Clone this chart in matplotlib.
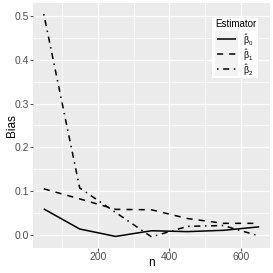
import matplotlib
matplotlib.use('Agg')
import matplotlib.pyplot as plt
from matplotlib.patches import Rectangle
from matplotlib.ticker import MultipleLocator

plt.rcParams['font.family'] = ['Liberation Sans', 'DejaVu Sans']
plt.rcParams['mathtext.fontset'] = 'custom'
plt.rcParams['mathtext.rm'] = 'Liberation Sans'
plt.rcParams['mathtext.it'] = 'Liberation Sans'

# data
n = [50, 150, 250, 350, 450, 550, 650]
bias_b0 = [0.059, 0.013, -0.004, 0.009, 0.007, 0.010, 0.018]
bias_b1 = [0.105, 0.082, 0.058, 0.057, 0.037, 0.026, 0.026]
bias_b2 = [0.505, 0.107, 0.051, -0.005, 0.019, 0.021, -0.003]
labels = [r'$\hat{\beta}_0$', r'$\hat{\beta}_1$', r'$\hat{\beta}_2$']
styles = [(0, ()), (0, (4, 4)), (0, (1, 3, 4, 3))]

W = 273
fig = plt.figure(figsize=(2.73, 2.73), dpi=100)
ax = fig.add_axes([33 / W, 1 - 248 / W, 237 / W, 245 / W])
ax.set_facecolor('#EBEBEB')
for s in ax.spines.values():
    s.set_visible(False)

for y, ls in zip([bias_b0, bias_b1, bias_b2], styles):
    ax.plot(n, y, color='black', linewidth=1.1, linestyle=ls, solid_capstyle='butt')

ax.set_xlim(20, 680)
ax.set_ylim(-0.0305, 0.5305)
ax.xaxis.set_minor_locator(MultipleLocator(100))
ax.yaxis.set_minor_locator(MultipleLocator(0.05))
ax.set_xticks([200, 400, 600])
ax.set_yticks([0.0, 0.1, 0.2, 0.3, 0.4, 0.5])
ax.set_yticklabels(['0.0', '0.1', '0.2', '0.3', '0.4', '0.5'])
ax.grid(which='major', color='white', linewidth=0.9)
ax.grid(which='minor', color='white', linewidth=0.45)
ax.set_axisbelow(True)
ax.tick_params(which='major', length=2.0, width=0.6, color='#333333',
               labelsize=7.5, labelcolor='#4D4D4D', pad=1.0)
ax.tick_params(which='minor', length=0)
ax.set_xlabel('n', fontsize=8.5)
ax.set_ylabel('Bias', fontsize=8.5)
ax.xaxis.set_label_coords(0.5, -14 / 245 - 0.005, transform=ax.transAxes)
ax.yaxis.set_label_coords(-21.5 / 237, 0.5, transform=ax.transAxes)
ax.xaxis.label.set_va('center')
ax.yaxis.label.set_va('center')

# legend, built by hand to get the ggplot look
lg = fig.add_axes([212 / W, 1 - 78 / W, 46 / W, 60 / W])
lg.set_xlim(0, 46)
lg.set_ylim(60, 0)
lg.axis('off')
lg.add_patch(Rectangle((0, 0), 46, 60, facecolor='white', edgecolor='none'))
lg.text(3, 6, 'Estimator', fontsize=7, va='center', ha='left')
lg.add_patch(Rectangle((3, 13), 23, 45, facecolor='#F2F2F2', edgecolor='none'))
for i, (lab, ls) in enumerate(zip(labels, styles)):
    yy = 21 + i * 15
    lg.plot([5, 24], [yy, yy], color='black', linewidth=1.1, linestyle=ls)
    lg.text(31, yy + 1, lab, fontsize=6.3, va='center', ha='left')

fig.savefig('out.png', dpi=100)
